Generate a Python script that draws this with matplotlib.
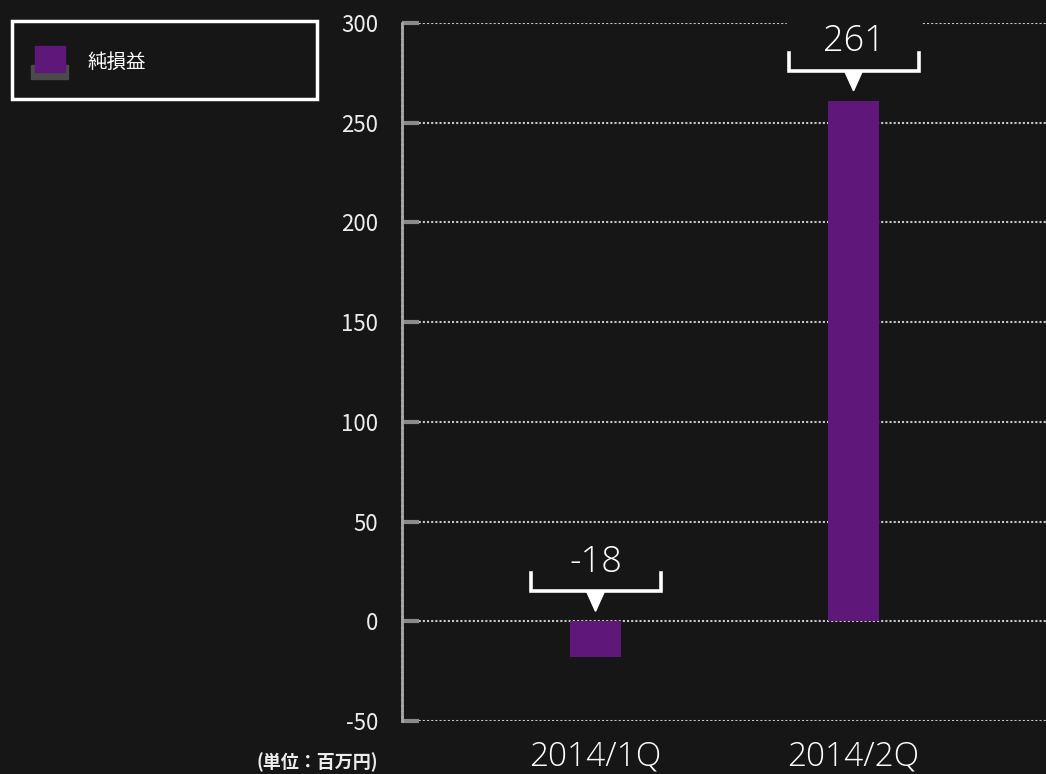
import matplotlib
matplotlib.use("Agg")
import matplotlib.pyplot as plt
from matplotlib.patches import Rectangle, Polygon
import numpy as np

# data
categories = ["2014/1Q", "2014/2Q"]
net_income = [-18, 261]
series_name = "純損益"
unit_label = "(単位：百万円)"
y_ticks = [-50, 0, 50, 100, 150, 200, 250, 300]

BG = "#161616"
PURPLE = "#5f177a"
GRID = "#c8c8c8"
THIN = ["Open Sans", "DejaVu Sans"]

plt.rcParams['font.family'] = ['Noto Sans CJK JP', 'DejaVu Sans']

W, H = 1046, 774
fig = plt.figure(figsize=(W / 100, H / 100), dpi=100, facecolor=BG)
ax = fig.add_axes([402 / W, 53 / H, 1 - 402 / W, 698 / H])
ax.set_facecolor(BG)

x = np.arange(len(categories))
ax.bar(x, net_income, width=0.2, color=PURPLE, zorder=3)
ax.set_xlim(-0.75, 1.746)
ax.set_ylim(-50, 300)

# data units per pixel
pxu = (1.746 + 0.75) / (W - 402)
pyu = 350 / 698

# value callouts: bracket + pointer above each bar
for xi, v in zip(x, net_income):
    base = max(v, 0)
    hw = 65 * pxu
    yb = base + 30 * pyu
    yt = base + 48 * pyu
    ax.add_patch(Rectangle((xi - hw - 2 * pxu, yt), 2 * hw + 4 * pxu, 40 * pyu,
                           color=BG, zorder=2, clip_on=False))
    ax.plot([xi - hw, xi - hw, xi + hw, xi + hw], [yt, yb, yb, yt],
            color="white", lw=2.6, solid_joinstyle="miter", clip_on=False, zorder=5)
    ax.add_patch(Polygon([[xi - 9 * pxu, yb], [xi + 9 * pxu, yb], [xi, base + 10 * pyu]],
                         closed=True, color="white", zorder=5, clip_on=False))
    ax.text(xi, base + 59 * pyu, f"{v}", ha="center", va="center", fontsize=26,
            color="white", family=THIN, fontweight="light", zorder=6, clip_on=False)

ax.set_axisbelow(True)
ax.yaxis.grid(True, color=GRID, linestyle=(0, (1, 1)), lw=1.5)

ax.set_yticks(y_ticks)
ax.set_yticklabels([str(t) for t in y_ticks])
ax.tick_params(axis="y", direction="in", length=12, width=3, color="#8a8a8a",
               labelsize=16, labelcolor="#ececec", pad=17)
ax.set_xticks(x)
ax.set_xticklabels(categories, family=THIN, fontweight="light", fontsize=24, color="white")
ax.tick_params(axis="x", length=0, pad=14)

for s in ["top", "right", "bottom"]:
    ax.spines[s].set_visible(False)
ax.spines["left"].set_color("#a8a8a8")
ax.spines["left"].set_linestyle((0, (1.2, 0.8)))
ax.spines["left"].set_linewidth(2)

# legend drawn by hand
fig.patches.append(Rectangle((12 / W, 1 - 99 / H), 305 / W, 78 / H, fill=False,
                             edgecolor="white", lw=2.5, transform=fig.transFigure))
fig.patches.append(Rectangle((31 / W, 1 - 79 / H), 37 / W, 14 / H, color="#4a4a4a",
                             transform=fig.transFigure))
fig.patches.append(Rectangle((35 / W, 1 - 72 / H), 30 / W, 26 / H, color=PURPLE,
                             transform=fig.transFigure))
fig.text(88 / W, 1 - 62 / H, series_name, ha="left", va="center", fontsize=14, color="white")

fig.text(378 / W, 1 - 762 / H, unit_label, ha="right", va="center", fontsize=13,
         color="#ececec", fontweight="bold")

fig.savefig("out.png", dpi=100, facecolor=BG)
